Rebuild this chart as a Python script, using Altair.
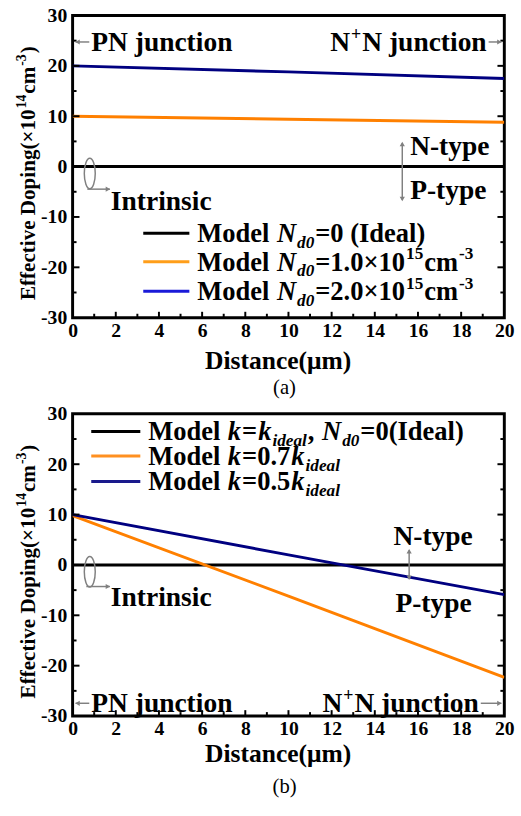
import altair as alt
import pandas as pd

# ---------------- data ----------------
x_pts = [0, 10, 20]
names_a = ["ideal", "nd1", "nd2"]
a_ideal = [0.0, 0.0, 0.0]
a_nd1 = [10.0, 9.4, 8.8]
a_nd2 = [20.0, 18.8, 17.5]
names_b = ["ideal", "k07", "k05"]
b_ideal = [0.0, 0.0, 0.0]
b_k07 = [9.8, -6.2, -22.3]
b_k05 = [10.0, 2.0, -5.9]
line_colors = ["#000000", "#FF8000", "#000080"]

x_ticks = list(range(0, 21, 2))
y_ticks = list(range(-30, 31, 10))
x_major_inner = list(range(2, 19, 2))
x_minor = list(range(1, 20, 2))
y_major_inner = [-20, -10, 0, 10, 20]
y_minor = [-25, -15, -5, 5, 15, 25]

W, H = 440, 308
SERIF = "Liberation Serif"
GRAY = "#808080"
FS_ANN = 28     # annotation text
FS_LEG = 27     # legend text
FS_TITLE = 26   # x axis title
FS_TICK = 20
ONE = pd.DataFrame({"o": [0]})
XS = alt.Scale(domain=[0, 20], nice=False, zero=False)
YS = alt.Scale(domain=[-30, 30], nice=False, zero=False)

# Times-Bold / Times-BoldItalic advance widths (per 1000 em)
W_B = {' ': 250, '!': 333, '(': 333, ')': 333, ',': 250, '-': 333, '.': 250,
       '+': 570, '=': 570, '×': 570, 'I': 389, 'M': 944, 'N': 722, 'P': 611,
       'D': 722, 'E': 667, 'a': 500, 'b': 556, 'c': 444, 'd': 556, 'e': 444,
       'f': 333, 'g': 500, 'h': 556, 'i': 278, 'j': 333, 'k': 556, 'l': 278,
       'm': 833, 'n': 556, 'o': 500, 'p': 556, 'r': 444, 's': 389, 't': 333,
       'u': 556, 'v': 500, 'y': 500}
W_BI = {'N': 722, 'd': 500, 'k': 500, 'i': 278, 'e': 444, 'a': 500, 'l': 278}
GAP = 1.0


def tw(text, italic, size):
    tbl = W_BI if italic else W_B
    return sum(tbl.get(c, 500) for c in text) * size / 1000.0


def runs(spec, x0, yc, size, anchor="left", color="black"):
    """spec: list of (text, italic, kind) with kind in n/sub/sup"""
    def fs(kind):
        return size if kind == "n" else size * 0.65
    total = sum(tw(t, it, fs(k)) + GAP for t, it, k in spec) - GAP
    x = x0 - total if anchor == "right" else x0
    base = yc + 0.33 * size
    out = []
    for t, it, k in spec:
        f = fs(k)
        y = base + (0.22 * size if k == "sub" else (-0.42 * size if k == "sup" else 0))
        out.append(alt.Chart(ONE).mark_text(
            text=t, font=SERIF, fontSize=f, fontWeight="bold",
            fontStyle="italic" if it else "normal", align="left",
            baseline="alphabetic", color=color).encode(
            x=alt.value(x), y=alt.value(y)))
        x += tw(t, it, f) + GAP
    return out


def vruns(spec, bx, y0, size):
    def fs(kind):
        return size if kind == "n" else size * 0.65
    y = y0
    out = []
    for t, it, k in spec:
        f = fs(k)
        xx = bx - (0.42 * size if k == "sup" else 0)
        out.append(alt.Chart(ONE).mark_text(
            text=t, font=SERIF, fontSize=f, fontWeight="bold", angle=270,
            align="left", baseline="alphabetic", color="black").encode(
            x=alt.value(xx), y=alt.value(y)))
        y -= tw(t, it, f) + GAP
    return out


def hrule(x1, x2, y, color=GRAY, sw=1.5):
    return alt.Chart(ONE).mark_rule(color=color, strokeWidth=sw).encode(
        x=alt.value(x1), x2=alt.value(x2), y=alt.value(y))


def vrule(x, y1, y2, color=GRAY, sw=1.5):
    return alt.Chart(ONE).mark_rule(color=color, strokeWidth=sw).encode(
        x=alt.value(x), y=alt.value(y1), y2=alt.value(y2))


def head(x, y, shape):
    return alt.Chart(ONE).mark_point(shape=shape, filled=True, size=28,
                                     color=GRAY, opacity=1).encode(
        x=alt.value(x), y=alt.value(y))


ELLIPSE = ("M 0 -1 C 0.2 -1 0.36 -0.55 0.36 0 C 0.36 0.55 0.2 1 0 1 "
           "C -0.2 1 -0.36 0.55 -0.36 0 C -0.36 -0.55 -0.2 -1 0 -1 Z")


def ellipse(x, y):
    return alt.Chart(ONE).mark_point(shape=ELLIPSE, filled=False, size=961,
                                     stroke=GRAY, strokeWidth=1.5, opacity=1).encode(
        x=alt.value(x), y=alt.value(y))


def x_axis(title_y):
    return alt.Axis(
        values=x_ticks, title="Distance(μm)", labelFont=SERIF, labelFontSize=FS_TICK,
        labelFontWeight="bold", labelColor="black", ticks=False, domain=False,
        grid=False, labelPadding=3, labelFlush=False, labelOverlap=False,
        titleFont=SERIF, titleFontSize=FS_TITLE, titleFontWeight="bold",
        titleColor="black", titleX=209, titleY=title_y,
        titleBaseline="alphabetic", titleAlign="center")


Y_AXIS = alt.Axis(
    values=y_ticks, title=None, labelFont=SERIF, labelFontSize=FS_TICK,
    labelFontWeight="bold", labelColor="black", ticks=False, domain=False,
    grid=False, labelPadding=6, labelFlush=False, labelOverlap=False,
    labelExpr="'' + datum.value")


def inner_ticks(xax):
    out = []
    for vals, ln in ((y_major_inner, 7), (y_minor, 4)):
        df = pd.DataFrame({"v": vals})
        out.append(alt.Chart(df).mark_rule(color="black", strokeWidth=2).encode(
            y=alt.Y("v:Q", scale=YS, axis=Y_AXIS), x=alt.value(0), x2=alt.value(ln)))
        out.append(alt.Chart(df).mark_rule(color="black", strokeWidth=2).encode(
            y=alt.Y("v:Q", scale=YS, axis=Y_AXIS), x=alt.value(W - ln), x2=alt.value(W)))
    for vals, ln in ((x_major_inner, 6), (x_minor, 4)):
        df = pd.DataFrame({"v": vals})
        out.append(alt.Chart(df).mark_rule(color="black", strokeWidth=2).encode(
            x=alt.X("v:Q", scale=XS, axis=xax), y=alt.value(H - ln), y2=alt.value(H)))
    return out


def lines_layer(vals, names, xax):
    rows = []
    for nm, ys in zip(names, vals):
        for xv, yv in zip(x_pts, ys):
            rows.append({"x": xv, "y": yv, "s": nm})
    df = pd.DataFrame(rows)
    return alt.Chart(df).mark_line(strokeWidth=3, clip=True).encode(
        x=alt.X("x:Q", scale=XS, axis=xax),
        y=alt.Y("y:Q", scale=YS, axis=Y_AXIS),
        color=alt.Color("s:N", scale=alt.Scale(domain=names, range=line_colors),
                        legend=None),
    )


YTITLE = [("Effective Doping(×10", False, "n"), ("14", False, "sup"),
          ("cm", False, "n"), ("-3", False, "sup"), (")", False, "n")]


def caption(txt):
    return alt.Chart(ONE).mark_text(text=txt, font=SERIF, fontSize=21,
                                    fontWeight="normal", align="center",
                                    baseline="middle", color="black").encode(
        x=alt.value(216), y=alt.value(380))


NPN = [("N", False, "n"), ("+", False, "sup"), ("N junction", False, "n")]

# ---------------- panel (a) ----------------
xa = x_axis(52)
la = [lines_layer([a_ideal, a_nd1, a_nd2], names_a, xa)]
la += inner_ticks(xa)
la += vruns(YTITLE, -38, 290, 21.5)
# PN junction
la += [hrule(3, 17, 27), head(5, 27, "triangle-left")]
la += runs([("PN junction", False, "n")], 19, 27, FS_ANN)
la += runs(NPN, 422, 27, FS_ANN, anchor="right")
la += [hrule(424, 437, 27), head(435, 27, "triangle-right")]
# N-type / P-type
la += runs([("N-type", False, "n")], 344, 133, FS_ANN)
la += runs([("P-type", False, "n")], 344, 178, FS_ANN)
la += [vrule(336, 130, 188), head(336, 131, "triangle-up"), head(336, 187, "triangle-down")]
# intrinsic
la += [ellipse(17.5, 161), hrule(15, 38, 177), head(36, 177, "triangle-right")]
la += runs([("Intrinsic", False, "n")], 39, 189, FS_ANN)
# legend
leg_a_cols = ["#000000", "#FF9E1A", "#1A1AD8"]
leg_a_rows = [
    [("Model ", False, "n"), ("N", True, "n"), ("d0", True, "sub"), ("=0 (Ideal)", False, "n")],
    [("Model ", False, "n"), ("N", True, "n"), ("d0", True, "sub"), ("=1.0×10", False, "n"),
     ("15", False, "sup"), ("cm", False, "n"), ("-3", False, "sup")],
    [("Model ", False, "n"), ("N", True, "n"), ("d0", True, "sub"), ("=2.0×10", False, "n"),
     ("15", False, "sup"), ("cm", False, "n"), ("-3", False, "sup")],
]
for yc, col, spec in zip([222, 251, 281], leg_a_cols, leg_a_rows):
    la.append(hrule(72, 119, yc, color=col, sw=3))
    la += runs(spec, 127, yc, FS_LEG)
la.append(caption("(a)"))
panel_a = alt.layer(*la).properties(width=W, height=H)

# ---------------- panel (b) ----------------
xb = x_axis(46)
lb = [lines_layer([b_ideal, b_k07, b_k05], names_b, xb)]
lb += inner_ticks(xb)
lb += vruns(YTITLE, -38, 290, 21.5)
leg_b_cols = ["#000000", "#FF9020", "#1A1A8C"]
leg_b_rows = [
    [("Model ", False, "n"), ("k", True, "n"), ("=", False, "n"), ("k", True, "n"),
     ("ideal", True, "sub"), (", ", False, "n"), ("N", True, "n"), ("d0", True, "sub"),
     ("=0(Ideal)", False, "n")],
    [("Model ", False, "n"), ("k", True, "n"), ("=0.7", False, "n"), ("k", True, "n"),
     ("ideal", True, "sub")],
    [("Model ", False, "n"), ("k", True, "n"), ("=0.5", False, "n"), ("k", True, "n"),
     ("ideal", True, "sub")],
]
for yc, col, spec in zip([18, 43, 69], leg_b_cols, leg_b_rows):
    lb.append(hrule(19, 69, yc, color=col, sw=3))
    lb += runs(spec, 77, yc, FS_LEG)
lb += runs([("N-type", False, "n")], 327, 124, FS_ANN)
lb += runs([("P-type", False, "n")], 329, 193, FS_ANN)
lb += [vrule(343, 139, 168), head(343, 140, "triangle-up"), head(343, 167, "triangle-down")]
lb += [ellipse(17.5, 161), hrule(14, 38, 176), head(36, 176, "triangle-right")]
lb += runs([("Intrinsic", False, "n")], 39, 187, FS_ANN)
lb += [hrule(3, 17, 295), head(5, 295, "triangle-left")]
lb += runs([("PN junction", False, "n")], 19, 295, FS_ANN)
lb += runs(NPN, 414, 295, FS_ANN, anchor="right")
lb += [hrule(416, 437, 295), head(435, 295, "triangle-right")]
lb.append(caption("(b)"))
panel_b = alt.layer(*lb).properties(width=W, height=H)

chart = alt.vconcat(panel_a, panel_b, spacing=98, bounds="flush").resolve_scale(
    color="independent"
).properties(
    padding={"left": 14, "top": -4, "right": 5, "bottom": 5},
    background="white",
).configure_view(stroke="black", strokeWidth=3)

chart.save("out.html", embed_options={"renderer": "svg", "actions": False})
